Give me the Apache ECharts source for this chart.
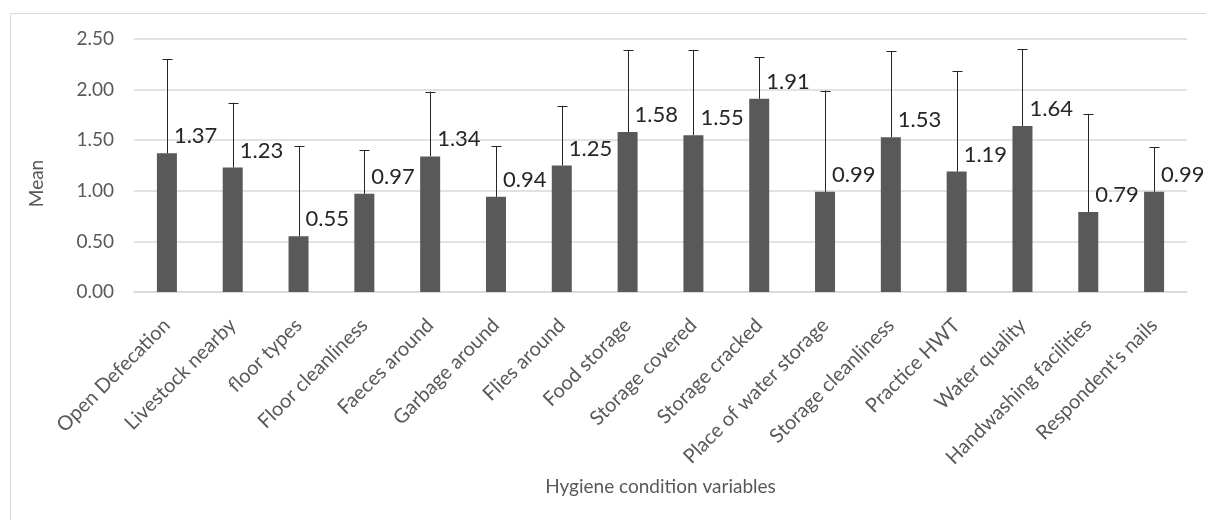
<!DOCTYPE html>
<html>
<head>
<meta charset="utf-8">
<script src="https://cdn.jsdelivr.net/npm/echarts@6/dist/echarts.min.js"></script>
<style>
html,body{margin:0;padding:0;background:#fff;}
#c{width:1206px;height:520px;}
</style>
</head>
<body>
<div id="c"></div>
<script>
const categories = ["Open Defecation","Livestock nearby","floor types","Floor cleanliness","Faeces around","Garbage around","Flies around","Food storage","Storage covered","Storage cracked","Place of water storage","Storage cleanliness","Practice HWT","Water quality","Handwashing facilities","Respondent's nails"];
const means = [1.37,1.23,0.55,0.97,1.34,0.94,1.25,1.58,1.55,1.91,0.99,1.53,1.19,1.64,0.79,0.99];
const upperValues = [2.30,1.87,1.44,1.40,1.98,1.44,1.84,2.39,2.39,2.32,1.99,2.38,2.18,2.40,1.76,1.43];
const yTicks = [0,0.5,1,1.5,2,2.5];

const chart = echarts.init(document.getElementById('c'));
const FONT = 'Lato, "Open Sans", sans-serif';
const errData = categories.map((c,i)=>[i, means[i], upperValues[i]]);

chart.setOption({
  animation:false,
  textStyle:{fontFamily:FONT},
  graphic:[{type:'rect',shape:{x:10.5,y:13.5,width:1210,height:520},style:{fill:'none',stroke:'#d9d9d9',lineWidth:1},silent:true,z:-10}],
  grid:{left:134,right:19,top:39,bottom:228},
  xAxis:{
    type:'category',data:categories,
    axisLine:{lineStyle:{color:'#d9d9d9',width:1.5}},
    axisTick:{show:false},
    axisLabel:{rotate:45,fontSize:20,color:'#595959',fontFamily:FONT,interval:0,margin:30},
    name:'Hygiene condition variables',nameLocation:'middle',nameGap:185,
    nameTextStyle:{fontSize:19,color:'#595959',fontFamily:FONT}
  },
  yAxis:{
    type:'value',min:yTicks[0],max:yTicks[yTicks.length-1],interval:0.5,
    axisLine:{show:false},axisTick:{show:false},
    splitLine:{lineStyle:{color:'#d9d9d9',width:1.5}},
    axisLabel:{formatter:v=>v.toFixed(2),fontSize:19,color:'#595959',fontFamily:FONT,margin:20},
    name:'Mean',nameLocation:'middle',nameGap:88,
    nameTextStyle:{fontSize:19,color:'#595959',fontFamily:FONT,padding:[0,36,0,0]}
  },
  series:[
    {type:'bar',data:means,barWidth:20,itemStyle:{color:'#595959'},
     label:{show:true,position:[17,-28],formatter:p=>p.value.toFixed(2),fontSize:22,color:'#262626',fontFamily:FONT}},
    {type:'custom',data:errData,z:5,
     renderItem:(params,api)=>{
       const x = api.value(0);
       const lo = api.coord([x, api.value(1)]);
       const hi = api.coord([x, api.value(2)]);
       const cx = Math.round(lo[0])+0.5;
       const style={stroke:'#262626',lineWidth:1};
       return {type:'group',children:[
         {type:'line',shape:{x1:cx,y1:lo[1],x2:cx,y2:hi[1]},style},
         {type:'line',shape:{x1:cx-5,y1:Math.round(hi[1])+0.5,x2:cx+5,y2:Math.round(hi[1])+0.5},style}
       ]};
     }}
  ]
});
</script>
</body>
</html>
